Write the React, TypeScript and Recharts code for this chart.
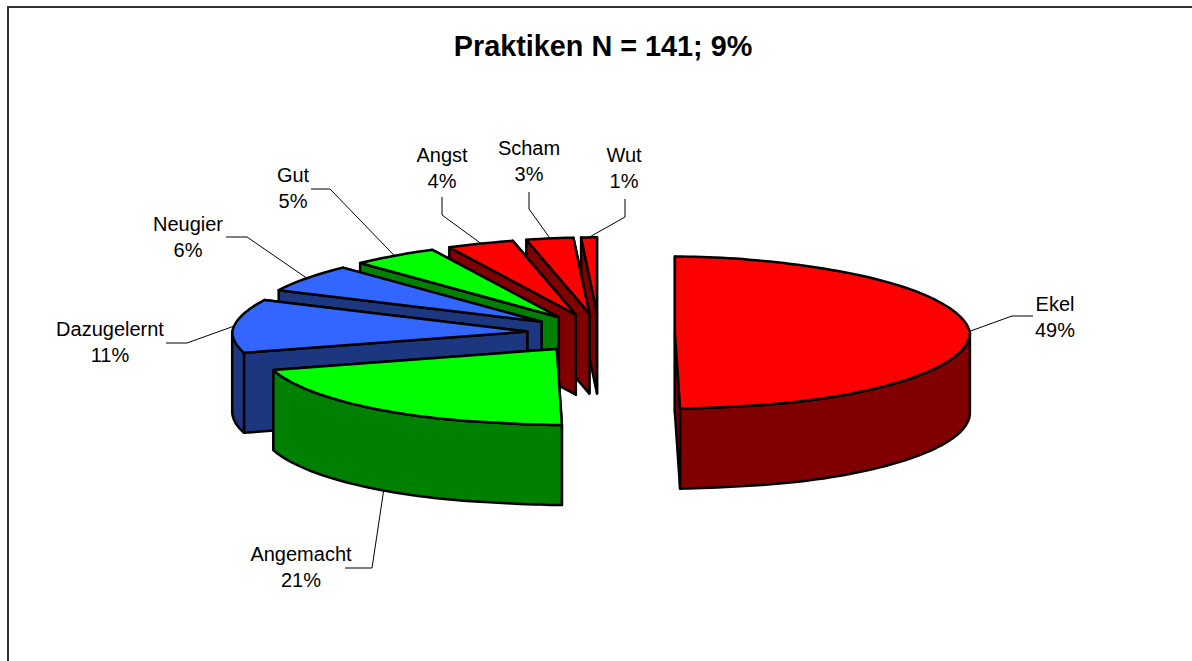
import { PieChart, Pie } from "recharts";

const categories = ["Ekel", "Angemacht", "Dazugelernt", "Neugier", "Gut", "Angst", "Scham", "Wut"];
// the labels show them rounded
const percents = [49.45, 21.05, 11.3, 5.8, 4.7, 3.8, 2.9, 1.0];
const topColors = ["#ff0000", "#00ff00", "#3366ff", "#3366ff", "#00ff00", "#ff0000", "#ff0000", "#ff0000"];
const sideColors = ["#800000", "#008000", "#1c367f", "#1c367f", "#008000", "#800000", "#800000", "#800000"];

// reversed so the back slices get painted first and the front ones overlap them
const pieData = categories
  .map((name, i) => ({ name, value: percents[i], fill: topColors[i], side: sideColors[i] }))
  .reverse();

// where each label sits, and the elbow of its leader line
const labelLayout: Record<string, { x: number; y: number; elbow: number[][]; onWall?: boolean }> = {
  Ekel: { x: 1055, y: 311, elbow: [[1012, 316], [1033, 316]] },
  Angemacht: { x: 301, y: 561, elbow: [[372, 568], [345, 568]], onWall: true },
  Dazugelernt: { x: 110, y: 336, elbow: [[187, 343], [166, 343]] },
  Neugier: { x: 188, y: 231, elbow: [[247, 237], [226, 237]] },
  Gut: { x: 293, y: 182, elbow: [[330, 189], [311, 189]] },
  Angst: { x: 442, y: 162, elbow: [[442, 215], [442, 197]] },
  Scham: { x: 529, y: 155, elbow: [[529, 209], [529, 192]] },
  Wut: { x: 624, y: 162, elbow: [[625, 217], [625, 199]] },
};

const TILT = 0.258;
const DEPTH = 80;
const EXPLODE = 76;
const RAD = Math.PI / 180;

// fake perspective: the far side is narrower, the front centre is pinched a bit
const widthFactor = (s: number) =>
  s > 0 ? 1 - 0.05 * s - 0.09 * Math.pow(s, 8) : 1 - 0.5 * Math.pow(-s, 40);

const project = (cx: number, cy: number, r: number, deg: number) => {
  const s = Math.sin(deg * RAD);
  return [cx + r * Math.cos(deg * RAD) * widthFactor(s), cy - r * TILT * s];
};

const toPath = (pts: number[][]) =>
  "M" + pts.map((p) => `${p[0].toFixed(1)},${p[1].toFixed(1)}`).join("L") + "Z";

function arc(cx: number, cy: number, r: number, from: number, to: number) {
  const pts: number[][] = [];
  const n = Math.max(2, Math.ceil((to - from) / 1.5));
  for (let i = 0; i <= n; i++) pts.push(project(cx, cy, r, from + ((to - from) * i) / n));
  return pts;
}

const apexOf = (cx: number, cy: number, mid: number) => {
  const p = project(cx, cy, EXPLODE, mid);
  // left side slices sit a little closer to the middle
  return Math.cos(mid * RAD) < 0 ? [cx + (p[0] - cx) * 0.95, p[1]] : p;
};

function Slice3D(props: any) {
  const { cx, cy, outerRadius: r, startAngle, endAngle, payload } = props;
  const fill = payload.fill;
  const side = payload.side;
  const mid = (startAngle + endAngle) / 2;
  const [ax, ay] = apexOf(cx, cy, mid);
  const a = [startAngle, endAngle];

  const face = (deg: number) => {
    const e = project(ax, ay, r, deg);
    return [[ax, ay], e, [e[0], e[1] + DEPTH], [ax, ay + DEPTH]];
  };
  // far cut face goes first
  const faces = a
    .map((d) => ({ d, y: project(ax, ay, r, d)[1] }))
    .sort((p, q) => p.y - q.y)
    .map((f) => face(f.d));

  // outer wall only on the front half (180..360 on the circle)
  const walls: number[][][] = [];
  for (const [lo, hi] of [[180, 360], [540, 720]]) {
    const from = Math.max(startAngle, lo);
    const to = Math.min(endAngle, hi);
    if (to > from) {
      const top = arc(ax, ay, r, from, to);
      const bottom = top.map((p) => [p[0], p[1] + DEPTH]).reverse();
      walls.push([...top, ...bottom]);
    }
  }

  const common = { stroke: "#000", strokeWidth: 2.5, strokeLinejoin: "round" as const };
  return (
    <g>
      {faces.map((f, i) => (
        <path key={i} d={toPath(f)} fill={side} {...common} />
      ))}
      {walls.map((w, i) => (
        <path key={i} d={toPath(w)} fill={side} {...common} />
      ))}
      <path d={toPath([[ax, ay], ...arc(ax, ay, r, startAngle, endAngle)])} fill={fill} {...common} />
    </g>
  );
}

function SliceLabel(props: any) {
  const { cx, cy, outerRadius: r, midAngle, name, value } = props;
  const layout = labelLayout[name];
  const [ax, ay] = apexOf(cx, cy, midAngle);
  const edge = project(ax, ay, r, midAngle);
  const start = [edge[0], edge[1] + (layout.onWall ? DEPTH : 0)];
  const pts = [start, ...layout.elbow];
  return (
    <g>
      <polyline
        points={pts.map((p) => p.join(",")).join(" ")}
        fill="none"
        stroke="#000"
        strokeWidth={1}
      />
      <text x={layout.x} y={layout.y} textAnchor="middle" fontSize={20} fill="#000" fontFamily="'Liberation Sans', Arial, sans-serif">
        <tspan x={layout.x}>{name}</tspan>
        <tspan x={layout.x} dy={26}>{Math.round(value)}%</tspan>
      </text>
    </g>
  );
}

export default function App() {
  return (
    <div style={{ position: "absolute", left: 0, top: 0, width: 1192, height: 661, overflow: "hidden", background: "#fff" }}>
      <div
        style={{
          position: "absolute",
          left: 7,
          top: 6,
          width: 1185,
          height: 655,
          borderLeft: "2px solid #333",
          borderTop: "2px solid #333",
        }}
      />
      <div
        style={{
          position: "absolute",
          left: 0,
          top: 30,
          width: 1206,
          textAlign: "center",
          fontFamily: "'Liberation Sans', Arial, sans-serif",
          fontWeight: "bold",
          fontSize: 28.8,
          lineHeight: "33px",
          color: "#000",
        }}
      >
        Praktiken N = 141; 9%
      </div>
      <div style={{ position: "absolute", left: 0, top: 0 }}>
        <PieChart width={1192} height={661} margin={{ top: 0, right: 0, bottom: 0, left: 0 }}>
          <Pie
            data={pieData}
            dataKey="value"
            nameKey="name"
            cx={599}
            cy={333}
            innerRadius={0}
            outerRadius={295}
            startAngle={90}
            endAngle={450}
            paddingAngle={0}
            isAnimationActive={false}
            shape={Slice3D}
            label={SliceLabel}
            labelLine={false}
          />
        </PieChart>
      </div>
    </div>
  );
}
